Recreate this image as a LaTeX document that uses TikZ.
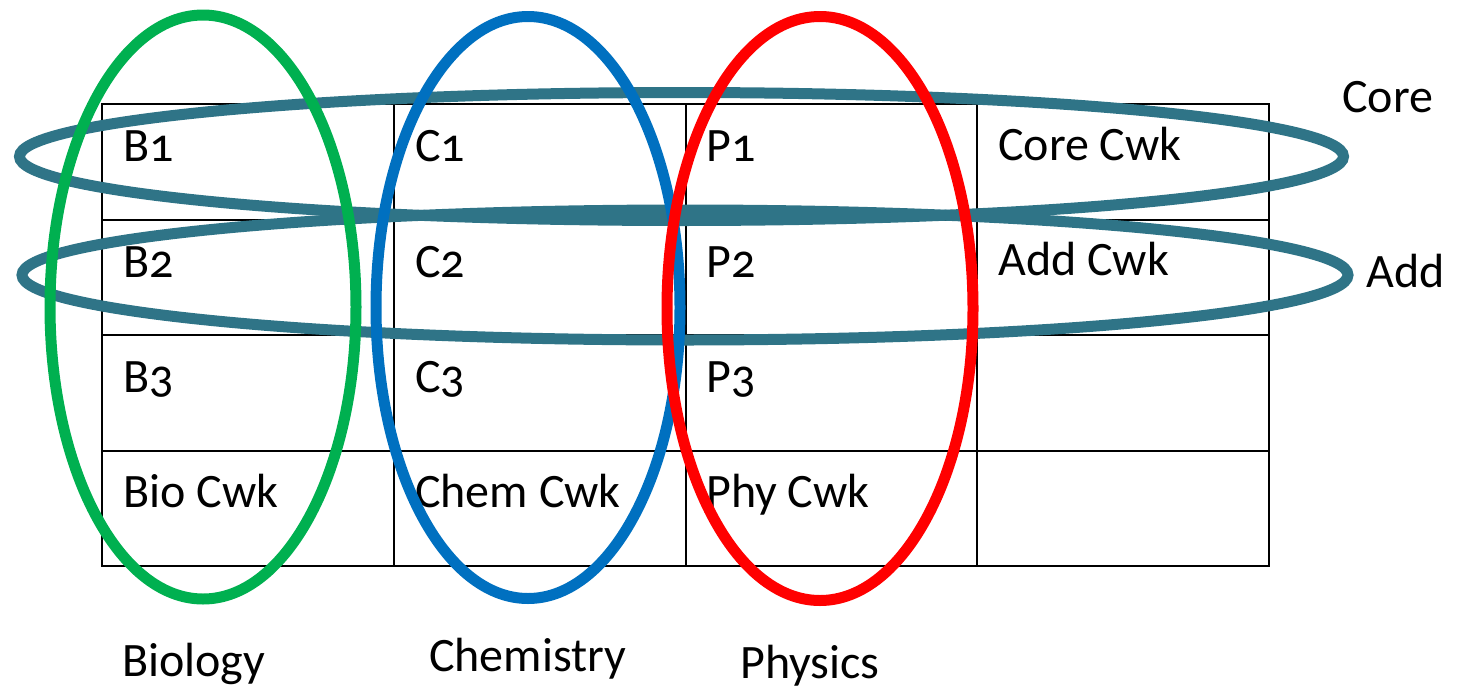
\documentclass[tikz,border=0pt]{standalone}
\usepackage{fontspec}
\setmainfont{Carlito}[Numbers=OldStyle]
\definecolor{bioG}{HTML}{00B050}
\definecolor{chemB}{HTML}{0070C0}
\definecolor{phyR}{HTML}{FF0000}
\definecolor{teal}{HTML}{2F7487}
\begin{document}
\begin{tikzpicture}[x=1pt,y=-1pt,
  lbl/.style={anchor=base west,inner sep=0pt,font=\fontsize{48}{52}\selectfont},
  grid/.style={line width=2.4pt,black},
  ring/.style={line width=11pt}]
\useasboundingbox (0,0) rectangle (1473,691);
% grid
\draw[grid] (102,104) rectangle (1269,566);
\foreach \x in {394,686,977} \draw[grid] (\x,104) -- (\x,566);
\foreach \y in {220,335,451} \draw[grid] (102,\y) -- (1269,\y);
% cell texts
\node[lbl] (b1) at (123,161) {B1};
\node[lbl] (b2) at (123,277) {B2};
\node[lbl] (b3) at (123,392) {B3};
\node[lbl] (bc) at (123,507) {Bio Cwk};
\node[lbl] (c1) at (415,161) {C1};
\node[lbl] (c2) at (415,277) {C2};
\node[lbl] (c3) at (415,392) {C3};
\node[lbl] (cc) at (415,507) {Chem Cwk};
\node[lbl] (p1) at (706,161) {P1};
\node[lbl] (p2) at (706,277) {P2};
\node[lbl] (p3) at (706,392) {P3};
\node[lbl] (pc) at (706,507) {Phy Cwk};
\node[lbl] (cw) at (998,160) {Core Cwk};
\node[lbl] (aw) at (998,275) {Add Cwk};
% outer labels
\node[lbl] (core) at (1342,112) {Core};
\node[lbl] (add) at (1366,287) {Add};
\node[lbl] (bio) at (122,676) {Biology};
\node[lbl] (chem) at (429,671) {Chemistry};
\node[lbl] (phy) at (740,678) {Physics};
% teal rings
\draw[ring,teal] (681.5,156.5) ellipse [x radius=662,y radius=64];
\draw[ring,teal] (685,275) ellipse [x radius=663,y radius=65];
% subject rings
\draw[ring,bioG] (203,307) ellipse [x radius=153,y radius=292];
\draw[ring,chemB] (528,307.5) ellipse [x radius=152,y radius=291];
\draw[ring,phyR] (820,308.5) ellipse [x radius=153,y radius=292];
\end{tikzpicture}
\end{document}
